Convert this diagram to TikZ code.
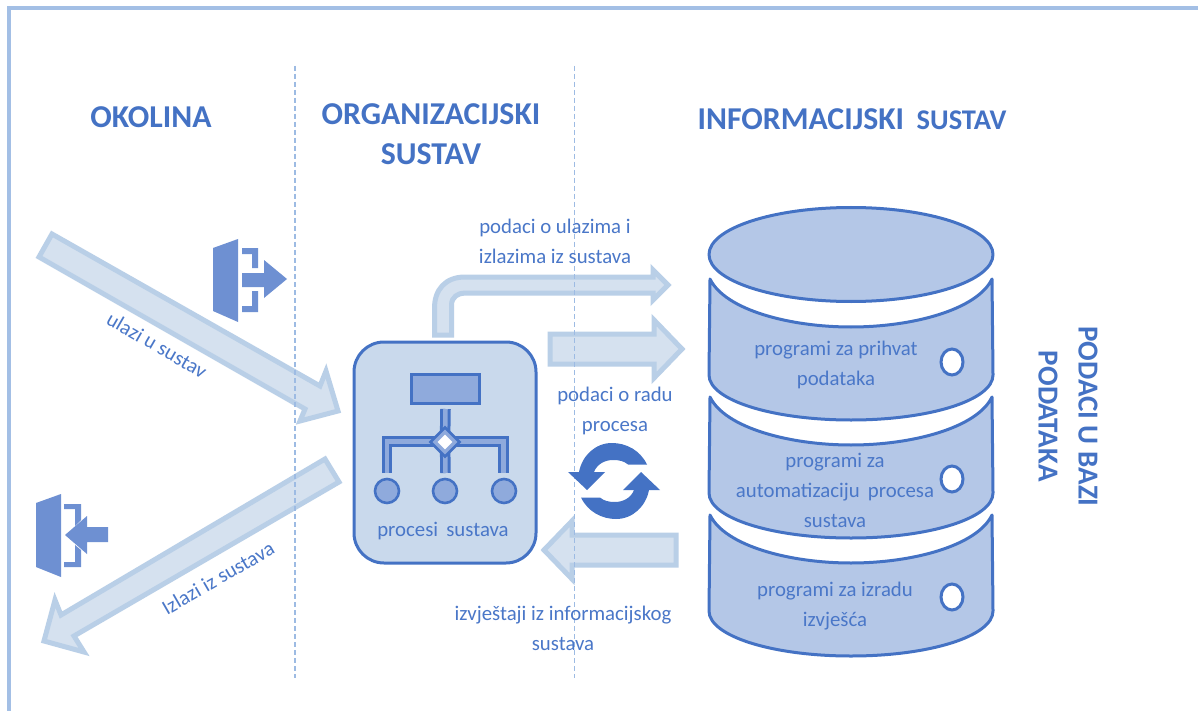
\documentclass[tikz,border=0pt]{standalone}
\usepackage{fontspec}
\setmainfont{Carlito}
\definecolor{mainblue}{HTML}{4472C4}
\definecolor{textblue}{HTML}{4A77C8}
\definecolor{iconblue}{HTML}{6E90D2}
\definecolor{midblue}{HTML}{8FAADC}
\definecolor{cylblue}{HTML}{B4C7E7}
\definecolor{boxblue}{HTML}{C9D9EC}
\definecolor{arrowfill}{HTML}{D5E1EF}
\definecolor{arrowedge}{HTML}{B9CFE7}
\definecolor{framecol}{HTML}{A3BFE5}
\definecolor{dashcol}{HTML}{9DBBE3}
\tikzset{
  blockarrow/.style={fill=arrowfill,draw=arrowedge,line width=5pt,line join=miter},
  doorshape/.style={fill=iconblue,draw=none},
  cylpart/.style={fill=cylblue,draw=mainblue,line width=3pt,line join=round},
  hole/.style={ellipse,minimum width=22pt,minimum height=26pt,inner sep=0pt,fill=white,draw=mainblue,line width=3pt},
  leaf/.style={circle,minimum size=24pt,inner sep=0pt,fill=midblue,draw=mainblue,line width=2.6pt},
  sep/.style={draw=dashcol,line width=1.6pt,dash pattern=on 5pt off 3pt},
  heading/.style={text=mainblue,font=\fontsize{31.8}{40}\selectfont\bfseries,align=center,inner sep=0pt},
  vheading/.style={text=mainblue,font=\fontsize{29}{40}\selectfont\bfseries,align=center,inner sep=0pt},
  label/.style={text=textblue,font=\fontsize{20.8}{30}\selectfont,align=center,inner sep=0pt},
}
\usetikzlibrary{shapes.geometric}
\begin{document}
\begin{tikzpicture}[x=1pt,y=-1pt]
\useasboundingbox (0,0) rectangle (1198,711);
\fill[white] (0,0) rectangle (1198,711);
% frame
\draw[framecol,line width=4pt] (9,711) -- (9,8) -- (1198,8);
% arrows
\draw[blockarrow] (52,234) -- (39,257) -- (305,409) -- (300,421) -- (338,411) -- (326,371) -- (320,386) -- cycle;
\draw[blockarrow] (325,459) -- (339,482) -- (74,636) -- (84,652) -- (44,641) -- (55,600) -- (61,615) -- cycle;
\draw[blockarrow] (434.5,335) -- (451.5,335) -- (451.5,305) .. controls (451.5,297) and (458,293) .. (465,293) -- (653,293) -- (653,300) -- (668,285) -- (653,270) -- (653,277) -- (465,277) .. controls (445,277) and (434.5,290) .. (434.5,308) -- cycle;
\draw[blockarrow] (550,334) -- (550,364) -- (654,364) -- (654,378) -- (682,349) -- (654,320) -- (654,334) -- cycle;
\draw[blockarrow] (676,535) -- (676,565) -- (572,565) -- (572,579) -- (544,550) -- (572,521) -- (572,535) -- cycle;
% separators
\draw[sep] (295,66) -- (295,678);
\draw[sep] (574.5,66) -- (574.5,678);
% entry icon
\fill[doorshape] (213,248) -- (238,239) -- (238,322) -- (213,311) -- cycle;
\fill[doorshape] (242,248) -- (258,248) -- (258,268) -- (252,268) -- (252,254) -- (242,254) -- cycle;
\fill[doorshape] (242,312) -- (258,312) -- (258,291) -- (252,291) -- (252,306) -- (242,306) -- cycle;
\fill[doorshape] (242,273) -- (264,273) -- (264,260) -- (287,279) -- (264,298) -- (264,287) -- (242,287) -- cycle;
% exit icon
\fill[doorshape] (36,503) -- (61,494) -- (61,577) -- (36,567) -- cycle;
\fill[doorshape] (64,504) -- (81,504) -- (81,520) -- (75,526) -- (75,509) -- (64,509) -- cycle;
\fill[doorshape] (64,567) -- (81,567) -- (81,550) -- (75,545) -- (75,562) -- (64,562) -- cycle;
\fill[doorshape] (65,535) -- (87,516) -- (87,527) -- (108,527) -- (108,542) -- (87,542) -- (87,554) -- cycle;
% process box
\node[rounded corners=30pt,minimum width=182pt,minimum height=221pt,inner sep=0pt,fill=boxblue,draw=mainblue,line width=3pt] (procbox) at (445,452.5) {};
\node[minimum width=68pt,minimum height=29pt,inner sep=0pt,fill=midblue,draw=mainblue,line width=3pt] (toprect) at (445,388.5) {};
\node[leaf] (leafa) at (387,491) {};
\node[leaf] (leafb) at (445,491) {};
\node[leaf] (leafc) at (504,491) {};
\coordinate (rootc) at (445,442);
\foreach \w/\c in {10.5/mainblue,4.5/midblue}{
  \draw[\c,line width=\w pt] (445.5,409) -- (rootc);
  \draw[\c,line width=\w pt] (rootc) -- (445.5,473);
  \draw[\c,line width=\w pt,line join=miter] (387,473) -- (387,441.5) -- (503.5,441.5) -- (503.5,473);
}
\node[diamond,minimum size=30pt,inner sep=0pt,fill=midblue,draw=mainblue,line width=2.6pt] (gate) at (rootc) {};
\node[diamond,minimum size=15pt,inner sep=0pt,fill=white,draw=none] (gatein) at (rootc) {};
\node[label] (procname) at (443,531) {procesi\, sustava};
% cycle icon
\foreach \a in {0,180}{
\fill[mainblue,rotate around={\a:(614,481)}] (647,464.5) .. controls (640,450) and (626,443) .. (612,443) .. controls (595,443) and (582,456) .. (579,472) -- (568,472) -- (587,490) -- (605,472) -- (594,472) .. controls (597,464) and (605,460) .. (613,460) .. controls (619,460) and (624,461) .. (628,464.5) -- cycle;
}
% cylinder
\foreach \t/\b in {279/375,397/493,515/611}{
\draw[cylpart] (710,\t) .. controls (725,\t+31) and (790,\t+48) .. (851,\t+48) .. controls (912,\t+48) and (977,\t+31) .. (992,\t) -- (993,\b) .. controls (993,\b+25) and (930,\b+45) .. (851,\b+45) .. controls (772,\b+45) and (709,\b+25) .. (709,\b) -- cycle;
}
\node[ellipse,minimum width=284pt,minimum height=94pt,inner sep=0pt,cylpart] (cyltop) at (851,254.5) {};
\node[hole] (holea) at (952,362) {};
\node[hole] (holeb) at (952,479) {};
\node[hole] (holec) at (952,597) {};
% headings
\node[heading] (okolina) at (151,117) {OKOLINA};
\node[heading] (org) at (431,134.5) {ORGANIZACIJSKI\\SUSTAV};
\node[heading] (info) at (852,119) {INFORMACIJSKI\, {\fontsize{28.5}{30}\selectfont SUSTAV}};
\node[vheading,rotate=-90] (baza) at (1068,416.5) {PODACI U BAZI\\PODATAKA};
% labels
\node[label] (lin) at (555,241) {podaci o ulazima i\\izlazima iz sustava};
\node[label] (lrad) at (615,411) {podaci o radu\\procesa};
\node[label] (lizv) at (563,628) {izvještaji iz informacijskog\\sustava};
\node[label,rotate=-30] (lul) at (157,345) {ulazi u sustav};
\node[label,rotate=30] (liz) at (218,578) {Izlazi iz sustava};
\node[label] (pa) at (836,364.5) {programi za prihvat\\podataka};
\node[label] (pb) at (835,490) {programi za\\automatizaciju\, procesa\\sustava};
\node[label] (pc) at (835,606.5) {programi za izradu\\izvješća};
\end{tikzpicture}
\end{document}
